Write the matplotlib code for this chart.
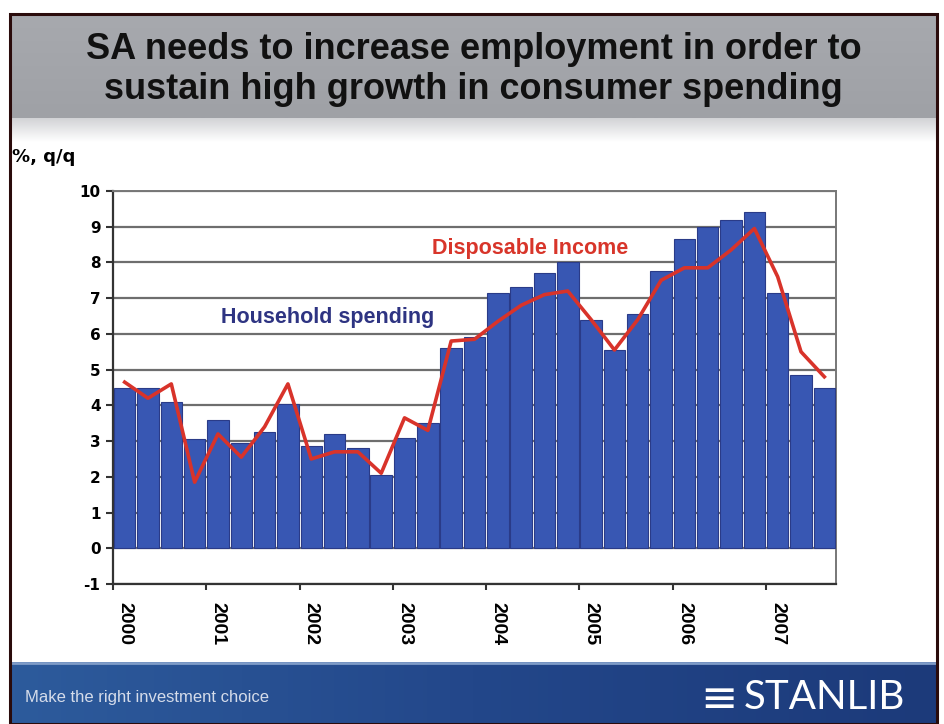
import matplotlib
matplotlib.use("Agg")
import matplotlib.pyplot as plt
import numpy as np
from matplotlib.patches import Rectangle

# data: quarterly, 2000Q1 - 2007Q3
years = ["2000", "2001", "2002", "2003", "2004", "2005", "2006", "2007"]
household = [4.5, 4.5, 4.1, 3.05, 3.6, 2.95, 3.25, 4.05,
             2.85, 3.2, 2.8, 2.05, 3.1, 3.5, 5.6, 5.9,
             7.15, 7.3, 7.7, 8.0, 6.4, 5.55, 6.55, 7.75,
             8.65, 9.0, 9.2, 9.4, 7.15, 4.85, 4.5]
disposable = [4.65, 4.2, 4.6, 1.85, 3.2, 2.55, 3.4, 4.6,
              2.5, 2.7, 2.7, 2.1, 3.65, 3.3, 5.8, 5.85,
              6.35, 6.8, 7.1, 7.2, 6.4, 5.55, 6.4, 7.5,
              7.85, 7.85, 8.35, 8.95, 7.6, 5.5, 4.8]

plt.rcParams['font.family'] = ['Liberation Sans', 'DejaVu Sans']
plt.rcParams['axes.unicode_minus'] = False

W, H = 944, 724
fig = plt.figure(figsize=(W / 100, H / 100), dpi=100)
fig.patch.set_facecolor("white")


def box(x0, y0, x1, y1):
    # pixel box (top-left origin) -> figure rect
    return [x0 / W, 1 - y1 / H, (x1 - x0) / W, (y1 - y0) / H]


# title band
ax_t = fig.add_axes(box(10, 14, 937, 118))
ax_t.imshow(np.linspace(0, 1, 50).reshape(-1, 1), aspect="auto",
            cmap=matplotlib.colors.LinearSegmentedColormap.from_list("t", ["#a7a9ae", "#9fa1a6"]),
            extent=[0, 1, 0, 1])
ax_t.set_axis_off()
ax_t.text(0.5, 0.66, "SA needs to increase employment in order to", ha="center", va="center",
          fontsize=26, fontweight="bold", color="#111111", transform=ax_t.transAxes)
ax_t.text(0.5, 0.27, "sustain high growth in consumer spending", ha="center", va="center",
          fontsize=26, fontweight="bold", color="#111111", transform=ax_t.transAxes)

# fade below title band
ax_f = fig.add_axes(box(10, 118, 937, 142))
ax_f.imshow(np.linspace(0, 1, 50).reshape(-1, 1), aspect="auto",
            cmap=matplotlib.colors.LinearSegmentedColormap.from_list("f", ["#d2d3d6", "#ffffff"]),
            extent=[0, 1, 0, 1])
ax_f.set_axis_off()

# footer band
ax_b = fig.add_axes(box(10, 662, 937, 724))
grad = np.linspace(0, 1, 200).reshape(1, -1)
ax_b.imshow(grad, aspect="auto",
            cmap=matplotlib.colors.LinearSegmentedColormap.from_list("b", ["#2d5b9c", "#23478a", "#1c3a7a"]),
            extent=[0, 1, 0, 1])
ax_b.axhline(0.985, color="#7f9cc8", lw=2)
ax_b.set_xlim(0, 1)
ax_b.set_ylim(0, 1)
ax_b.set_axis_off()
ax_b.text(15 / 927, 0.42, "Make the right investment choice", ha="left", va="center",
          fontsize=12, color="#d5dcea", transform=ax_b.transAxes)
ax_b.text(0.745, 0.40, "≡", ha="left", va="center", fontsize=32, color="white",
          family="DejaVu Sans", transform=ax_b.transAxes)
ax_b.text(0.792, 0.42, "STANLIB", ha="left", va="center", fontsize=29, color="white",
          family="Lato", transform=ax_b.transAxes)

# main chart
ax = fig.add_axes(box(113, 191, 836, 584))
x = np.arange(len(household))
ax.bar(x, household, width=0.92, color="#3857b3", edgecolor="#2a3b88", linewidth=0.8, zorder=3)
ax.plot(x, disposable, color="#d8332a", lw=2.6, zorder=4)

ax.set_xlim(-0.5, len(household) - 0.5)
ax.set_ylim(-1, 10)
ax.set_yticks(range(-1, 11))
ax.set_axisbelow(True)
ax.yaxis.grid(True, color="#6e6e6e", lw=1.6)

ax.set_xticks(np.arange(-0.5, len(household), 4))
ax.set_xticklabels([])
ax.set_xticks(np.arange(0, len(household), 4), minor=True)
ax.set_xticklabels(years, minor=True, rotation=-90, fontsize=14, fontweight="bold")
ax.tick_params(axis="x", which="major", length=4, width=1.5, color="#333333", direction="out")
ax.tick_params(axis="x", which="minor", length=0, pad=13)
ax.tick_params(axis="y", length=5, width=1.5, color="#333333", pad=4)
for lab in ax.get_yticklabels():
    lab.set_fontweight("bold")
    lab.set_family("DejaVu Sans")
    lab.set_fontsize(11)

for s in ["left", "bottom"]:
    ax.spines[s].set_color("#333333")
    ax.spines[s].set_linewidth(1.6)
for s in ["top", "right"]:
    ax.spines[s].set_color("#777777")
    ax.spines[s].set_linewidth(1.4)

ax.text(8.7, 6.45, "Household spending", ha="center", va="center", fontsize=15.5,
        fontweight="bold", color="#2e3482")
ax.text(17.4, 8.4, "Disposable Income", ha="center", va="center", fontsize=15.5,
        fontweight="bold", color="#d8352a")

fig.text(12 / W, 1 - 157 / H, "%, q/q", ha="left", va="center", fontsize=13,
         fontweight="bold", family="DejaVu Sans")

# slide frame
fig.add_artist(Rectangle((10 / W, 0), 927 / W, (H - 14) / H, transform=fig.transFigure,
                         fill=False, edgecolor="#2a0b0b", lw=2.2, zorder=10))

fig.savefig("out.png", dpi=100)
